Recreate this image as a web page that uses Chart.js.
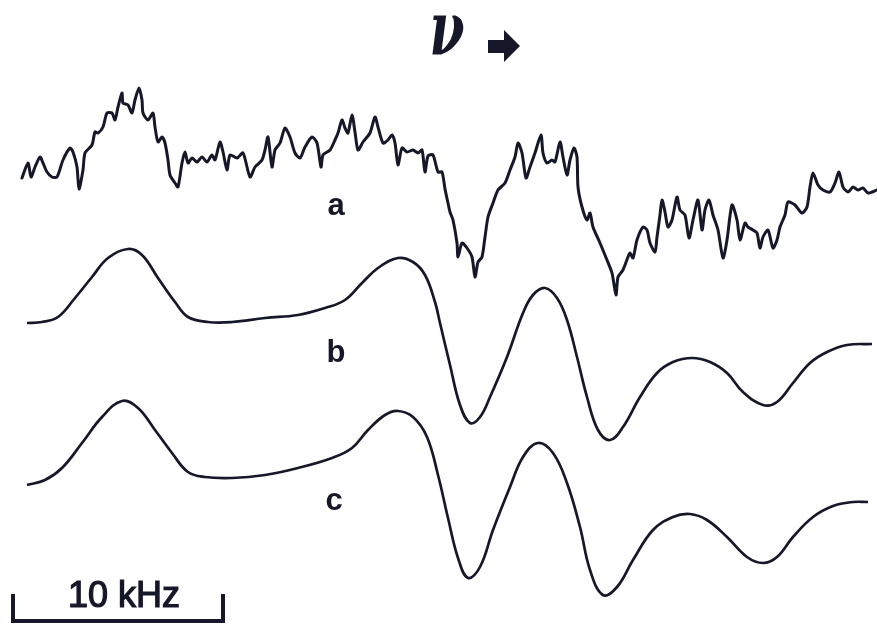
<!DOCTYPE html>
<html>
<head>
<meta charset="utf-8">
<script src="https://cdn.jsdelivr.net/npm/chart.js@4/dist/chart.umd.min.js"></script>
<style>
  html, body { margin: 0; padding: 0; background: #ffffff; }
  #wrap { width: 877px; height: 624px; position: relative; }
</style>
</head>
<body>
<div id="wrap"><canvas id="spectra"></canvas></div>
<script>
// Sweep position (frequency, sweep units) and pen deflection (downward) for each trace.
// a: recorded spectrum
const freqA = [
  22, 28, 31, 35, 40, 43, 47, 52, 57, 63,
  70, 73, 77, 79, 83, 85, 92, 95, 98, 103,
  107, 112, 115, 118, 122, 123, 128, 132, 135, 139,
  142, 143, 148, 153, 155, 158, 162, 165, 168, 170,
  175, 178, 182, 185, 188, 192, 197, 202, 207, 212,
  215, 220, 223, 227, 230, 237, 243, 250, 255, 262,
  265, 268, 272, 275, 280, 285, 290, 295, 300, 305,
  312, 317, 321, 323, 330, 335, 338, 342, 345, 348,
  352, 355, 358, 363, 370, 375, 378, 383, 388, 392,
  395, 398, 402, 407, 413, 418, 422, 425, 428, 433,
  438, 442, 445, 448, 450, 453, 457, 458, 462, 467,
  472, 475, 478, 482, 485, 488, 493, 498, 505, 510,
  515, 518, 522, 526, 530, 535, 541, 543, 547, 552,
  555, 560, 563, 567, 570, 574, 577, 578, 582, 587,
  590, 593, 600, 607, 612, 616, 618, 623, 628, 630,
  633, 637, 643, 647, 650, 655, 657, 660, 662, 665,
  668, 672, 677, 680, 685, 689, 693, 698, 702, 705,
  709, 713, 718, 723, 727, 732, 737, 740, 745, 748,
  753, 757, 760, 763, 768, 773, 777, 780, 785, 788,
  795, 802, 807, 810, 813, 818, 823, 830, 835, 839,
  843, 848, 853, 858, 863, 868, 877
];
const traceA = [
  178, 163, 177, 167, 157, 163, 172, 177, 177, 160,
  148, 152, 167, 189, 170, 153, 145, 132, 133, 127,
  113, 113, 120, 107, 93, 103, 105, 113, 100, 88,
  100, 113, 120, 113, 127, 142, 137, 143, 160, 175,
  183, 187, 163, 152, 163, 158, 162, 157, 162, 155,
  160, 142, 152, 170, 155, 158, 153, 177, 167, 160,
  150, 137, 167, 150, 143, 128, 137, 153, 158, 147,
  137, 143, 167, 155, 150, 140, 133, 120, 128, 133,
  115, 132, 150, 142, 133, 117, 127, 143, 140, 135,
  143, 165, 148, 152, 150, 153, 150, 172, 156, 155,
  172, 172, 189, 203, 212, 220, 243, 257, 243, 248,
  257, 277, 262, 257, 237, 217, 203, 190, 183, 170,
  157, 143, 153, 178, 167, 153, 135, 153, 163, 160,
  162, 142, 157, 175, 160, 148, 157, 187, 207, 220,
  213, 227, 243, 260, 273, 295, 277, 270, 257, 253,
  258, 240, 227, 230, 243, 252, 237, 215, 200, 212,
  227, 220, 197, 210, 215, 238, 220, 200, 230, 210,
  200, 215, 230, 258, 240, 205, 220, 240, 223, 227,
  230, 233, 248, 237, 230, 248, 240, 227, 215, 202,
  205, 213, 207, 187, 173, 185, 190, 192, 183, 172,
  187, 192, 187, 190, 188, 193, 190
];
// b: first simulated spectrum
const freqB = [
  27, 42, 58, 75, 92, 108, 128, 142, 158, 175,
  188, 208, 232, 265, 298, 325, 345, 362, 378, 398,
  413, 425, 435, 440, 450, 460, 470, 480, 490, 507,
  523, 533, 545, 557, 567, 577, 587, 598, 610, 623,
  640, 657, 673, 692, 710, 727, 743, 763, 777, 793,
  810, 827, 847, 872
];
const traceB = [
  323, 322, 317, 298, 277, 258, 249, 255, 278, 302,
  317, 322, 322, 318, 315, 308, 300, 283, 268, 258,
  262, 275, 302, 323, 365, 405, 423, 417, 397, 357,
  313, 295, 288, 298, 320, 357, 397, 430, 440, 427,
  397, 373, 362, 358, 362, 373, 392, 405, 402, 383,
  363, 352, 345, 344
];
// c: second simulated spectrum
const freqC = [
  27, 45, 62, 82, 102, 122, 138, 155, 172, 188,
  205, 232, 265, 298, 332, 352, 368, 385, 398, 413,
  427, 438, 448, 458, 468, 480, 493, 510, 523, 538,
  553, 567, 580, 590, 603, 617, 633, 653, 673, 690,
  707, 727, 747, 763, 777, 793, 813, 833, 853, 868
];
const traceC = [
  485, 480, 468, 443, 417, 401, 408, 430, 453, 472,
  477, 478, 475, 468, 458, 448, 430, 415, 411, 417,
  437, 475, 518, 558, 578, 567, 530, 487, 457, 443,
  453, 483, 527, 570, 595, 587, 560, 530, 517, 514,
  520, 537, 557, 563, 557, 537, 517, 506, 502, 502
];

const traceNames = ['a', 'b', 'c'];
const scaleBarKHz = 10;
const sweepPerKHz = 21;

const INK = '#17172a';

// Anchors (sweep, deflection) for the annotation text
const labelAnchor = { a: [336, 215], b: [336, 362], c: [334, 510] };
const titleAnchor = [447, 55];
const barStart = 13;
const barLevel = 621;

function pts(xs, ys) { return xs.map((x, i) => ({ x: x, y: ys[i] })); }

const annotate = {
  id: 'annotate',
  afterDatasetsDraw(chart) {
    const { ctx, scales: { x, y } } = chart;
    ctx.save();
    ctx.fillStyle = INK;
    ctx.strokeStyle = INK;

    // trace letters
    ctx.font = 'bold 31px "Liberation Sans", Arial, sans-serif';
    ctx.textAlign = 'center';
    ctx.textBaseline = 'alphabetic';
    traceNames.forEach(n => {
      const [sx, dy] = labelAnchor[n];
      ctx.fillText(n, x.getPixelForValue(sx), y.getPixelForValue(dy));
    });

    // sweep direction: nu and arrow
    const tx = x.getPixelForValue(titleAnchor[0]);
    const ty = y.getPixelForValue(titleAnchor[1]);
    ctx.save();
    ctx.translate(tx, ty);
    ctx.scale(0.9, 1.35);
    ctx.font = 'bold italic 56px "DejaVu Serif", serif';
    ctx.textAlign = 'center';
    ctx.fillText('\u03BD', 0, 0);
    ctx.restore();
    const ax = tx + 41, ay = ty - 9;
    ctx.beginPath();
    ctx.moveTo(ax, ay - 6);
    ctx.lineTo(ax + 16, ay - 6);
    ctx.lineTo(ax + 16, ay - 16);
    ctx.lineTo(ax + 32, ay);
    ctx.lineTo(ax + 16, ay + 16);
    ctx.lineTo(ax + 16, ay + 7);
    ctx.lineTo(ax, ay + 7);
    ctx.closePath();
    ctx.fill();

    // frequency scale bar
    const x0 = x.getPixelForValue(barStart);
    const x1 = x.getPixelForValue(barStart + scaleBarKHz * sweepPerKHz);
    const yb = y.getPixelForValue(barLevel);
    const yt = y.getPixelForValue(barLevel - 27);
    ctx.lineWidth = 4;
    ctx.lineJoin = 'miter';
    ctx.beginPath();
    ctx.moveTo(x0, yt);
    ctx.lineTo(x0, yb);
    ctx.lineTo(x1, yb);
    ctx.lineTo(x1, yt);
    ctx.stroke();
    ctx.font = '36px "Liberation Sans", Arial, sans-serif';
    ctx.textAlign = 'center';
    ctx.lineWidth = 1.2;
    const label = scaleBarKHz + ' kHz';
    const lx = (x0 + x1) / 2 + 6, ly = yb - 14;
    ctx.fillText(label, lx, ly);
    ctx.strokeText(label, lx, ly);
    ctx.restore();
  }
};

new Chart(document.getElementById('spectra'), {
  type: 'line',
  data: {
    datasets: [
      { label: 'a', data: pts(freqA, traceA), borderColor: INK, borderWidth: 3, tension: 0.25, pointRadius: 0, borderJoinStyle: 'round', borderCapStyle: 'round' },
      { label: 'b', data: pts(freqB, traceB), borderColor: INK, borderWidth: 2.7, tension: 0.4, pointRadius: 0 },
      { label: 'c', data: pts(freqC, traceC), borderColor: INK, borderWidth: 2.7, tension: 0.4, pointRadius: 0 }
    ]
  },
  options: {
    responsive: true,
    maintainAspectRatio: false,
    animation: false,
    events: [],
    layout: { padding: 0 },
    scales: {
      x: { type: 'linear', min: 0, max: 877, display: false },
      y: { type: 'linear', min: 0, max: 624, reverse: true, display: false }
    },
    plugins: { legend: { display: false }, tooltip: { enabled: false } }
  },
  plugins: [annotate]
});
</script>
</body>
</html>
